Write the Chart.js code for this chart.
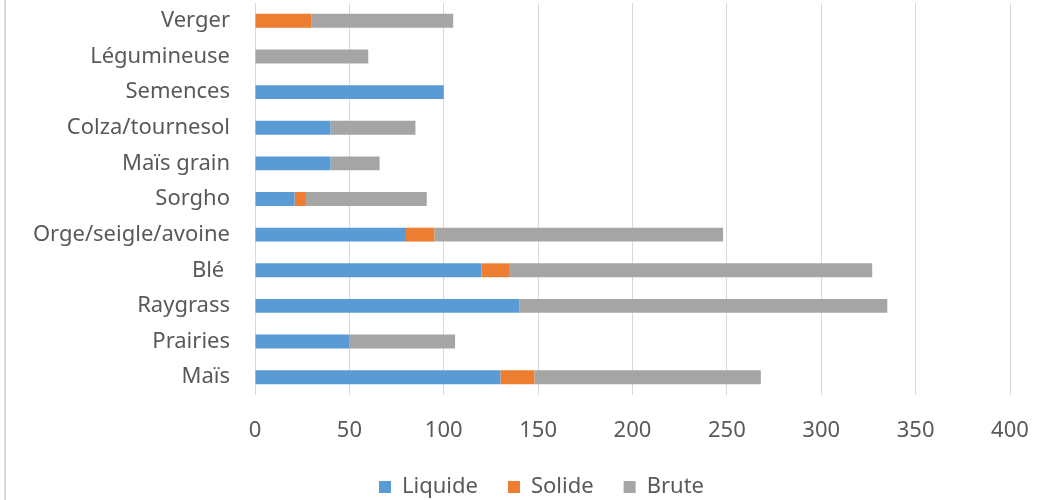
<!DOCTYPE html>
<html lang="fr">
<head>
    <meta charset="UTF-8">
    <title>Cultures</title>
    <script src="https://cdn.jsdelivr.net/npm/chart.js"></script>
    <style>
        body { margin: 0; background: #fff; }
        #wrap { position: relative; width: 1053px; height: 500px; }
        /* bord gauche du cadre du graphique */
        #frame { position: absolute; left: 4px; top: 0; width: 2px; height: 500px; background: #d9d9d9; }
    </style>
</head>
<body>
    <div id="wrap">
        <div id="frame"></div>
        <canvas id="chart"></canvas>
    </div>

    <script>
        // Données
        const categories = ['Verger', 'Légumineuse', 'Semences', 'Colza/tournesol', 'Maïs grain', 'Sorgho',
                            'Orge/seigle/avoine', 'Blé ', 'Raygrass', 'Prairies', 'Maïs'];
        const liquide = [0, 0, 100, 40, 40, 21, 80, 120, 140, 50, 130];
        const solide  = [30, 0, 0, 0, 0, 6, 15, 15, 0, 0, 18];
        const brute   = [75, 60, 0, 45, 26, 64, 153, 192, 195, 56, 120];

        const textColor = '#595959';
        Chart.defaults.font.family = '"Noto Sans", sans-serif';
        Chart.defaults.color = textColor;

        // décale la légende pour la centrer comme dans l'original
        const legendShift = {
            id: 'legendShift',
            afterLayout(chart) {
                chart.legend.left += 36.5;
                chart.legend.right += 36.5;
            }
        };

        new Chart(document.getElementById('chart'), {
            type: 'bar',
            data: {
                labels: categories,
                datasets: [
                    { label: 'Liquide', data: liquide, backgroundColor: '#5B9BD5' },
                    { label: 'Solide', data: solide, backgroundColor: '#ED7D31' },
                    { label: 'Brute', data: brute, backgroundColor: '#A5A5A5' }
                ]
            },
            options: {
                indexAxis: 'y',
                responsive: true,
                maintainAspectRatio: false,
                animation: false,
                datasets: { bar: { barPercentage: 0.39, categoryPercentage: 1 } },
                layout: { padding: { top: 3, right: 43, bottom: -8, left: 0 } },
                scales: {
                    x: {
                        stacked: true,
                        min: 0,
                        max: 400,
                        ticks: { stepSize: 50, padding: 23, font: { size: 22 }, color: textColor },
                        grid: { color: '#d9d9d9', drawTicks: false },
                        border: { display: false },
                        afterFit(scale) { scale.height = 51; }
                    },
                    y: {
                        stacked: true,
                        ticks: { padding: 25, font: { size: 22 }, color: textColor, autoSkip: false },
                        grid: { display: false, drawTicks: false },
                        border: { display: false },
                        afterFit(scale) {
                            scale.width = 255;
                            scale.paddingTop = 0;
                            scale.paddingBottom = 0;
                        }
                    }
                },
                plugins: {
                    legend: {
                        position: 'bottom',
                        labels: { boxWidth: 12, boxHeight: 12, padding: 30, font: { size: 22 }, color: textColor }
                    },
                    tooltip: { enabled: false }
                }
            },
            plugins: [legendShift]
        });
    </script>
</body>
</html>
